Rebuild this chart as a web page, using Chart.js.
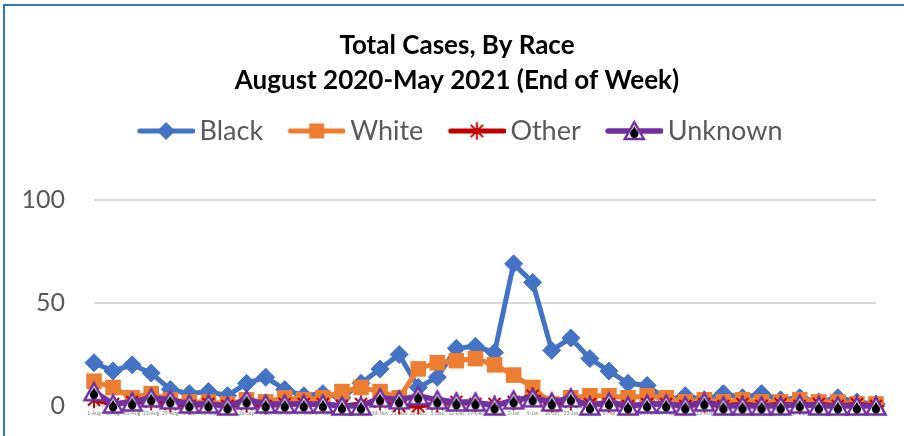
<!DOCTYPE html>
<html>
<head>
<meta charset="utf-8">
<script src="https://cdn.jsdelivr.net/npm/chart.js@4/dist/chart.umd.min.js"></script>
<style>
  html, body { margin: 0; padding: 0; background: #ffffff; }
  #frame { position: absolute; left: 3px; top: 4px; width: 1000px; height: 1000px;
           border-left: 2px solid #2E75C2; border-top: 2px solid #2E75C2; }
  #wrap { position: absolute; left: 0; top: 0; width: 904px; height: 436px; }
</style>
</head>
<body>
<div id="frame"></div>
<div id="wrap"><canvas id="c" width="904" height="436"></canvas></div>
<script>
// ---- data ----
const weekLabels = ['1-Aug','8-Aug','15-Aug','22-Aug','29-Aug','5-Sep','12-Sep','19-Sep','26-Sep',
  '3-Oct','10-Oct','17-Oct','24-Oct','31-Oct','7-Nov','14-Nov','21-Nov','28-Nov',
  '5-Dec','12-Dec','19-Dec','26-Dec','2-Jan','9-Jan','16-Jan','23-Jan','30-Jan',
  '6-Feb','13-Feb','20-Feb','27-Feb','6-Mar','13-Mar','20-Mar','27-Mar',
  '3-Apr','10-Apr','17-Apr','24-Apr','1-May','8-May','15-May'];
const blackCases   = [21,17,20,16,8,6,7,5,11,14,8,5,6,4,11,18,25,9,14,28,29,26,69,60,27,33,23,17,11,10,3,5,3,6,4,6,3,4,2,4,2,1];
const whiteCases   = [12,9,4,6,3,2,2,1,3,2,4,3,4,7,9,7,4,18,21,22,23,20,15,9,1,4,5,5,4,5,4,2,3,2,3,2,2,3,2,2,1,1];
const otherCases   = [3,1,2,2,1,0,1,0,1,0,1,1,1,0,1,2,0,0,1,2,1,1,2,5,1,2,1,1,0,1,1,0,1,0,1,0,1,0,1,0,1,0];
const unknownCases = [7,1,2,4,3,1,1,0,3,1,1,1,1,0,0,4,3,5,3,2,2,0,3,4,2,4,0,2,0,1,1,0,2,0,0,0,0,1,0,0,0,0];
const seriesNames  = ['Black','White','Other','Unknown'];
const yTicks       = [0, 50, 100];

const COLORS = { Black: '#4472C4', White: '#ED7D31', Other: '#C00000', Unknown: '#7030A0' };
const FONT = 'Lato, "Open Sans", sans-serif';

// ---- marker drawing helpers ----
function drawTriangleMarker(ctx, cx, cy) {
  ctx.save();
  ctx.beginPath();
  ctx.moveTo(cx, cy - 9);
  ctx.lineTo(cx + 9.5, cy + 8);
  ctx.lineTo(cx - 9.5, cy + 8);
  ctx.closePath();
  ctx.fillStyle = '#ffffff';
  ctx.fill();
  ctx.lineWidth = 2.5;
  ctx.strokeStyle = COLORS.Unknown;
  ctx.lineJoin = 'miter';
  ctx.stroke();
  // black drop
  ctx.beginPath();
  ctx.moveTo(cx, cy - 6);
  ctx.bezierCurveTo(cx, cy - 2, cx - 4.2, cy - 0.5, cx - 4.2, cy + 2.8);
  ctx.arc(cx, cy + 2.8, 4.2, Math.PI, 0, true);
  ctx.bezierCurveTo(cx + 4.2, cy - 0.5, cx, cy - 2, cx, cy - 6);
  ctx.fillStyle = '#000000';
  ctx.fill();
  ctx.restore();
}
function triangleImage() {
  const c = document.createElement('canvas');
  c.width = 24; c.height = 22;
  drawTriangleMarker(c.getContext('2d'), 12, 11.5);
  return c;
}
function drawMarker(ctx, name, cx, cy) {
  ctx.save();
  if (name === 'Black') {
    ctx.beginPath();
    ctx.moveTo(cx - 9, cy); ctx.lineTo(cx, cy - 9); ctx.lineTo(cx + 9, cy); ctx.lineTo(cx, cy + 9);
    ctx.closePath(); ctx.fillStyle = COLORS.Black; ctx.fill();
  } else if (name === 'White') {
    ctx.fillStyle = COLORS.White; ctx.fillRect(cx - 7.5, cy - 7.5, 15, 15);
  } else if (name === 'Other') {
    ctx.strokeStyle = COLORS.Other; ctx.lineWidth = 2;
    ctx.beginPath();
    for (let k = 0; k < 4; k++) {
      const a = k * Math.PI / 4;
      ctx.moveTo(cx - 8 * Math.cos(a), cy - 8 * Math.sin(a));
      ctx.lineTo(cx + 8 * Math.cos(a), cy + 8 * Math.sin(a));
    }
    ctx.stroke();
  } else {
    drawTriangleMarker(ctx, cx, cy);
  }
  ctx.restore();
}
function legendImage(name) {
  const c = document.createElement('canvas');
  c.width = 72; c.height = 30;
  const ctx = c.getContext('2d');
  ctx.strokeStyle = COLORS[name];
  ctx.lineWidth = name === 'Unknown' ? 5.5 : 5;
  ctx.lineCap = 'round';
  ctx.beginPath(); ctx.moveTo(17, 15); ctx.lineTo(70, 15); ctx.stroke();
  drawMarker(ctx, name, 43.25, 15);
  return c;
}

const triImg = triangleImage();

function ds(name, values, style, order) {
  const base = {
    label: name,
    data: values,
    borderColor: COLORS[name],
    backgroundColor: COLORS[name],
    borderWidth: name === 'Unknown' ? 5.5 : 5,
    tension: 0,
    clip: false,
    order: order,
    yAxisID: 'y',
    pointBorderColor: COLORS[name],
    pointBackgroundColor: COLORS[name],
    pointHoverRadius: 0
  };
  return Object.assign(base, style);
}

const datasets = [
  ds(seriesNames[0], blackCases,   { pointStyle: 'rectRot', pointRadius: 9, pointBorderWidth: 1 }, 4),
  ds(seriesNames[1], whiteCases,   { pointStyle: 'rect', pointRadius: 11, pointBorderWidth: 0 }, 3),
  ds(seriesNames[2], otherCases,   { pointStyle: 'star', pointRadius: 8.5, pointBorderWidth: 2 }, 2),
  ds(seriesNames[3], unknownCases, { pointStyle: triImg, pointRadius: 10, pointBorderWidth: 0 }, 1)
];

const legendExtra = {
  id: 'legendExtra',
  beforeInit(chart) {
    const origFit = chart.legend.fit;
    chart.legend.fit = function () {
      origFit.call(this);
      this.height += 45.5;
    };
  }
};

new Chart(document.getElementById('c'), {
  type: 'line',
  data: { labels: weekLabels, datasets: datasets },
  plugins: [legendExtra],
  options: {
    responsive: false,
    animation: false,
    devicePixelRatio: 1,
    layout: { padding: { left: 10, right: 0, top: 0, bottom: 0 } },
    plugins: {
      tooltip: { enabled: false },
      title: {
        display: true,
        text: ['Total Cases, By Race', 'August 2020-May 2021 (End of Week)'],
        color: '#000000',
        font: { family: FONT, size: 26, weight: 'bold', lineHeight: 35 / 26 },
        padding: { top: 28.5, bottom: 0 }
      },
      legend: {
        display: true,
        position: 'top',
        labels: {
          color: '#595959',
          font: { family: FONT, size: 27 },
          usePointStyle: true,
          pointStyleWidth: 54.5,
          padding: 19,
          sort: (a, b) => a.datasetIndex - b.datasetIndex,
          generateLabels(chart) {
            const items = Chart.defaults.plugins.legend.labels.generateLabels(chart);
            items.forEach(it => { it.pointStyle = legendImage(it.text); });
            return items;
          }
        }
      }
    },
    scales: {
      x: {
        type: 'category',
        offset: false,
        grid: { display: false, drawTicks: false },
        border: { display: true, color: '#D9D9D9', width: 2 },
        ticks: {
          autoSkip: false, maxRotation: 0, minRotation: 0,
          color: '#808080', font: { family: FONT, size: 5 }, padding: 4.5
        },
        afterFit(scale) { scale.height = 30; }
      },
      y: {
        position: 'left',
        min: 0, max: 100,
        afterBuildTicks(scale) { scale.ticks = yTicks.map(v => ({ value: v })); },
        grid: { color: '#D9D9D9', lineWidth: 2, drawTicks: true, tickLength: 29, tickColor: 'rgba(0,0,0,0)' },
        border: { display: false },
        ticks: {
          color: '#595959', font: { family: FONT, size: 25 }, padding: 0
        },
        afterFit(scale) { scale.width = 84; }
      },
      yRight: {
        position: 'right',
        min: 0, max: 100,
        grid: { display: false, drawTicks: false },
        border: { display: false },
        ticks: { display: false },
        afterFit(scale) { scale.width = 28; }
      }
    }
  }
});
</script>
</body>
</html>
